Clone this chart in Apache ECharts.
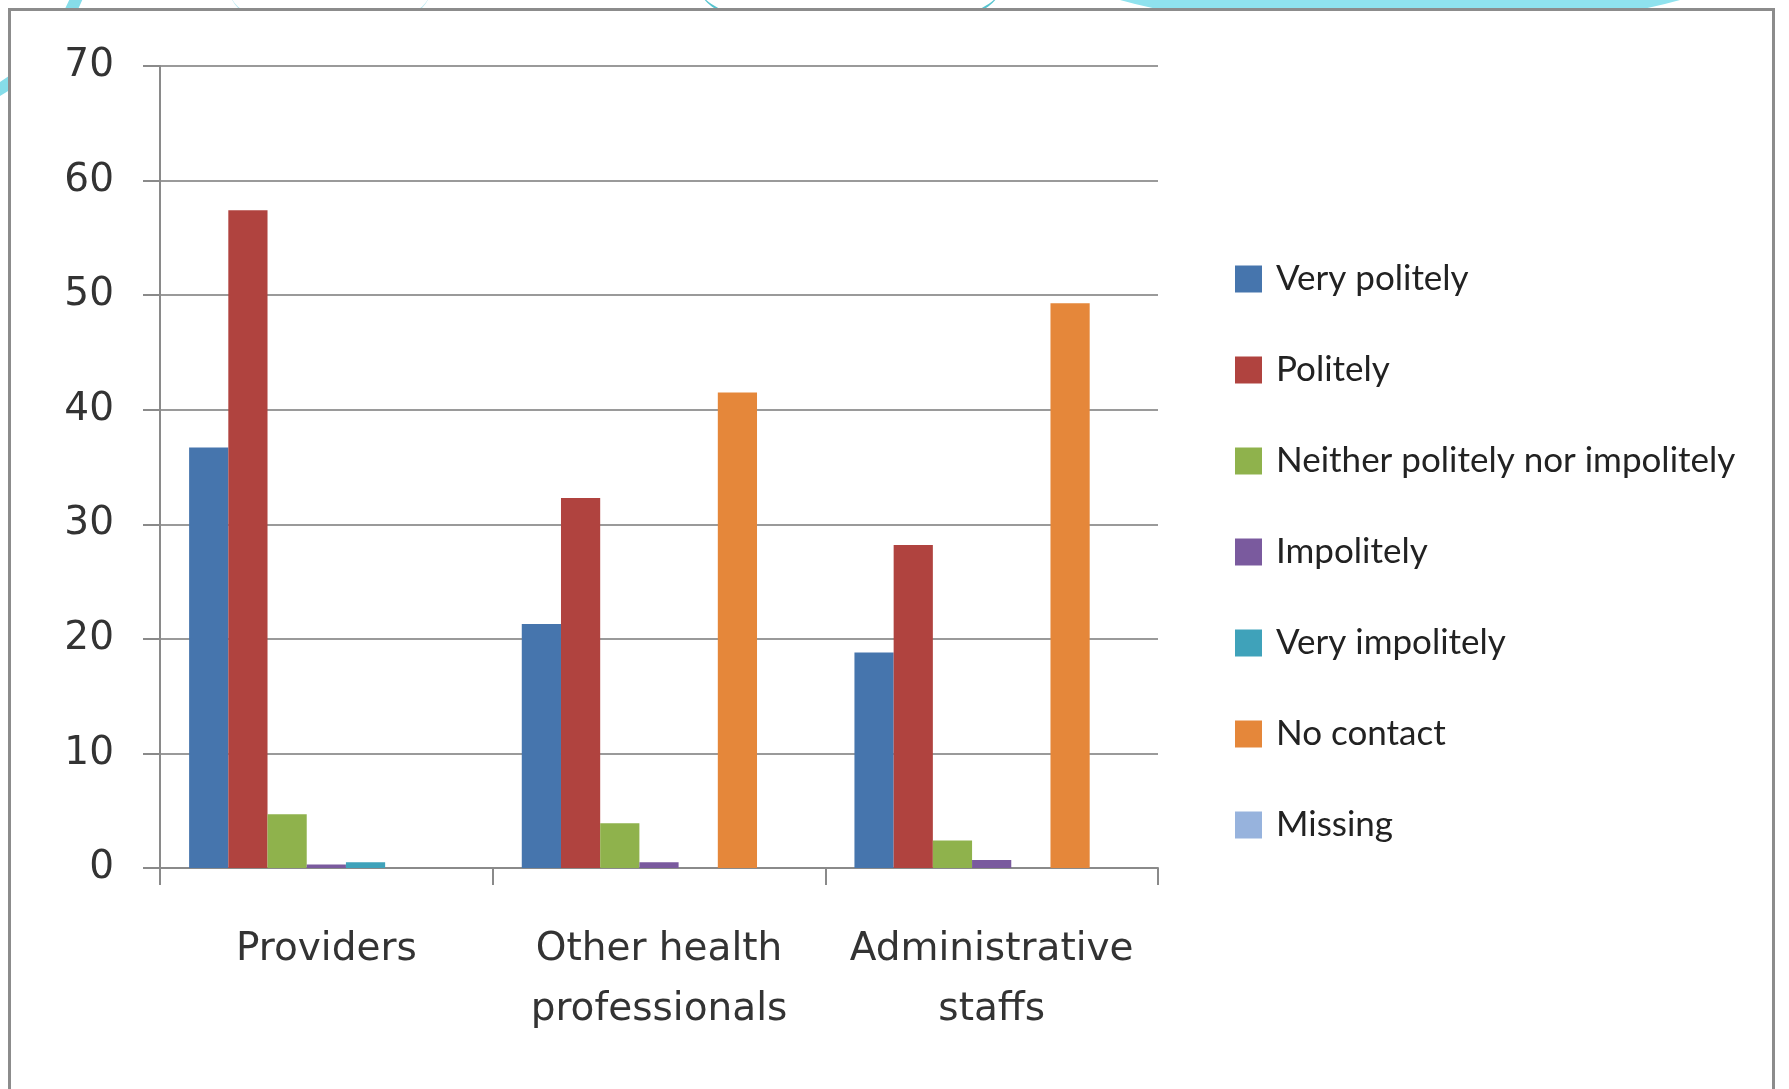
<!DOCTYPE html>
<html>
<head>
<meta charset="utf-8">
<script src="https://cdn.jsdelivr.net/npm/echarts@6/dist/echarts.min.js"></script>
<style>
  html, body { margin: 0; padding: 0; width: 1789px; height: 1089px; overflow: hidden; background: #ffffff; }
  #bg { position: absolute; left: 0; top: 0; width: 1789px; height: 1089px; overflow: hidden; }
  .sw { position: absolute; border-radius: 50%; }
  #panel { position: absolute; left: 8px; top: 8px; width: 1767px; height: 1100px; background: #fff;
           border: 3px solid #8c8c8c; box-sizing: border-box; }
  #chart { position: absolute; left: 0; top: 0; width: 1789px; height: 1089px; }
</style>
</head>
<body>
<div id="bg">
  <div class="sw" style="left:-240px; top:-330px; width:320px; height:420px; border:12px solid #86dde9;"></div>
  <div class="sw" style="left:1050px; top:-120px; width:700px; height:150px; background:#8fe2ee;"></div>
  <div class="sw" style="left:700px; top:-60px; width:300px; height:90px; border-bottom:6px solid #57c4cf;"></div>
  <div class="sw" style="left:230px; top:-50px; width:200px; height:80px; border-bottom:3px solid #b9e7f0;"></div>
</div>
<div id="panel"></div>
<div id="chart"></div>
<script>
const categories = ['Providers', 'Other health\nprofessionals', 'Administrative\nstaffs'];
const seriesNames = ['Very politely', 'Politely', 'Neither politely nor impolitely', 'Impolitely', 'Very impolitely', 'No contact', 'Missing'];
const veryPolitely = [36.7, 21.3, 18.8];
const politely = [57.4, 32.3, 28.2];
const neither = [4.7, 3.9, 2.4];
const impolitely = [0.3, 0.5, 0.7];
const veryImpolitely = [0.5, 0, 0];
const noContact = [0, 41.5, 49.3];
const missing = [0, 0, 0];
const yTicks = [0, 10, 20, 30, 40, 50, 60, 70];

const seriesData = [veryPolitely, politely, neither, impolitely, veryImpolitely, noContact, missing];
const colors = ['#4675ad', '#b0433f', '#8fb24c', '#7a5a9e', '#3fa2ba', '#e5873a', '#97b3dd'];

const chart = echarts.init(document.getElementById('chart'), null, { renderer: 'canvas' });
chart.setOption({
  backgroundColor: 'transparent',
  animation: false,
  color: colors,
  grid: { left: 160, right: 631, top: 66, bottom: 221, containLabel: false },
  legend: {
    orient: 'vertical',
    left: 1230,
    top: 254,
    itemWidth: 27,
    itemHeight: 27,
    itemGap: 51,
    icon: 'rect',
    data: seriesNames,
    textStyle: { fontFamily: 'Lato', fontSize: 35, color: '#222', lineHeight: 40, padding: [0, 0, 0, 9] }
  },
  xAxis: {
    type: 'category',
    data: categories,
    axisLine: { lineStyle: { color: '#8a8a8a', width: 2 } },
    axisTick: { show: true, length: 17, lineStyle: { color: '#8a8a8a', width: 2 } },
    axisLabel: { fontFamily: 'DejaVu Sans', fontSize: 39, color: '#333', margin: 52, lineHeight: 60, interval: 0 },
    splitLine: { show: false }
  },
  yAxis: {
    type: 'value',
    min: 0, max: 70, interval: 10,
    axisLine: { show: true, lineStyle: { color: '#8a8a8a', width: 2 } },
    axisTick: { show: true, length: 17, lineStyle: { color: '#8a8a8a', width: 2 } },
    axisLabel: { fontFamily: 'DejaVu Sans', fontSize: 39, color: '#333', margin: 46,
                 formatter: v => yTicks.includes(v) ? String(v) : '' },
    splitLine: { show: true, lineStyle: { color: '#9a9a9a', width: 2 } }
  },
  series: seriesNames.map((name, i) => ({
    name: name,
    type: 'bar',
    data: seriesData[i],
    barGap: '0%',
    barCategoryGap: '17.5%',
    itemStyle: { color: colors[i] }
  }))
});
</script>
</body>
</html>
